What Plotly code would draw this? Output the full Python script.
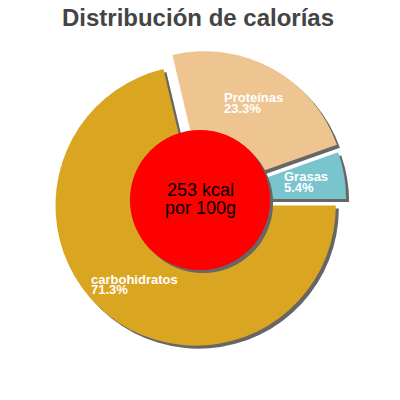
import math

import plotly.graph_objects as go

# data
labels = ['carbohidratos', 'Proteínas', 'Grasas']
values = [71.3, 23.3, 5.4]
colors = ['#DAA520', '#EEC591', '#7AC5CD']
pulls = [0.05, 0.07, 0.043]
kcal_lines = ['253 kcal', 'por 100g']
title = 'Distribución de calorías'

FONT = 'Liberation Sans, Arial, sans-serif'
W = H = 400
OFF = 8                  # page body margin, the figure sits 8px in
ML, MT = 42, 42          # margins of the pie box
BOX = 300                # pie box size in px
SH = 3                   # shadow offset in px
PW = BOX + SH            # plot area size (room for the shadow)
ROT = 90                 # first slice starts at 3 o'clock
LBL_SIZE = 13

# rough Arial bold advance widths (em) for the label texts
BOLD_W = {'a': .556, 'b': .611, 'c': .556, 'd': .611, 'e': .556, 'h': .611, 'i': .278, 'í': .278,
          'n': .611, 'o': .611, 'r': .389, 's': .556, 't': .333, 'G': .778, 'P': .667,
          '.': .278, '%': .889}


def text_w(s, size):
    return sum(BOLD_W.get(ch, .556) for ch in s) * size


def px2paper(px, py):
    # px, py are page pixels
    return (px - OFF - ML) / PW, 1 - (py - OFF - MT) / PW


# pie geometry in page px (same as plotly: r = half box / (1 + max pull))
cx, cy = OFF + ML + BOX / 2, OFF + MT + BOX / 2
r = (BOX / 2) / (1 + max(pulls))

fig = go.Figure()

# shadow pie
fig.add_trace(go.Pie(
    labels=labels, values=values, pull=pulls, sort=False, direction='clockwise', rotation=ROT,
    marker=dict(colors=['#666666'] * len(values), line=dict(width=0)),
    textinfo='none', hoverinfo='skip', showlegend=False,
    domain=dict(x=[SH / PW, 1], y=[0, BOX / PW])
))
# main pie
fig.add_trace(go.Pie(
    labels=labels, values=values, pull=pulls, sort=False, direction='clockwise', rotation=ROT,
    marker=dict(colors=colors, line=dict(width=0)),
    textinfo='none', showlegend=False,
    domain=dict(x=[0, BOX / PW], y=[SH / PW, 1])
))

# slice labels, placed along each slice's middle angle, two tight left aligned lines
total = sum(values)
start = ROT
annotations = []
for lab, v, p in zip(labels, values, pulls):
    mid = math.radians(start + 360 * v / total / 2)
    start += 360 * v / total
    dx, dy = math.sin(mid), -math.cos(mid)
    lx = cx + (p * r + 0.72 * r) * dx
    ly = cy + (p * r + 0.72 * r) * dy
    lines = [lab, f'{v}%']
    left = lx - max(text_w(s, LBL_SIZE) for s in lines) / 2
    for j, s in enumerate(lines):
        ax, ay = px2paper(left - 1, ly - 5.3 + 10.6 * j)
        annotations.append(dict(
            x=ax, y=ay, xref='paper', yref='paper', text=f'<b>{s}</b>', showarrow=False,
            xanchor='left', yanchor='middle',
            font=dict(family=FONT, size=LBL_SIZE, color='white')
        ))

# kcal circle in the middle, with its shadow
cr = r / 2
shapes = []
for o, col in [(SH, '#666666'), (0, '#FF0000')]:
    x0, y1 = px2paper(cx - cr + o, cy - cr + o)
    x1, y0 = px2paper(cx + cr + o, cy + cr + o)
    shapes.append(dict(type='circle', xref='paper', yref='paper', x0=x0, x1=x1, y0=y0, y1=y1,
                       fillcolor=col, line=dict(width=0), layer='above'))

for i, line in enumerate(kcal_lines):
    tx, ty = px2paper(cx, cy - 10 + 18 * i)
    annotations.append(dict(
        x=tx, y=ty, xref='paper', yref='paper', text=line, showarrow=False,
        xanchor='center', yanchor='middle', font=dict(family=FONT, size=18, color='black')
    ))

fig.update_layout(
    width=W, height=H,
    margin=dict(l=ML, r=W - ML - PW, t=MT, b=H - MT - PW),
    paper_bgcolor='white', plot_bgcolor='white',
    title=dict(text=f'<b>{title}</b>', x=(198 - OFF) / W, xanchor='center', y=1 - (18 - OFF) / H,
               yanchor='middle', font=dict(family=FONT, size=24, color='#444444')),
    shapes=shapes, annotations=annotations, showlegend=False
)

fig.write_html('out.html')
